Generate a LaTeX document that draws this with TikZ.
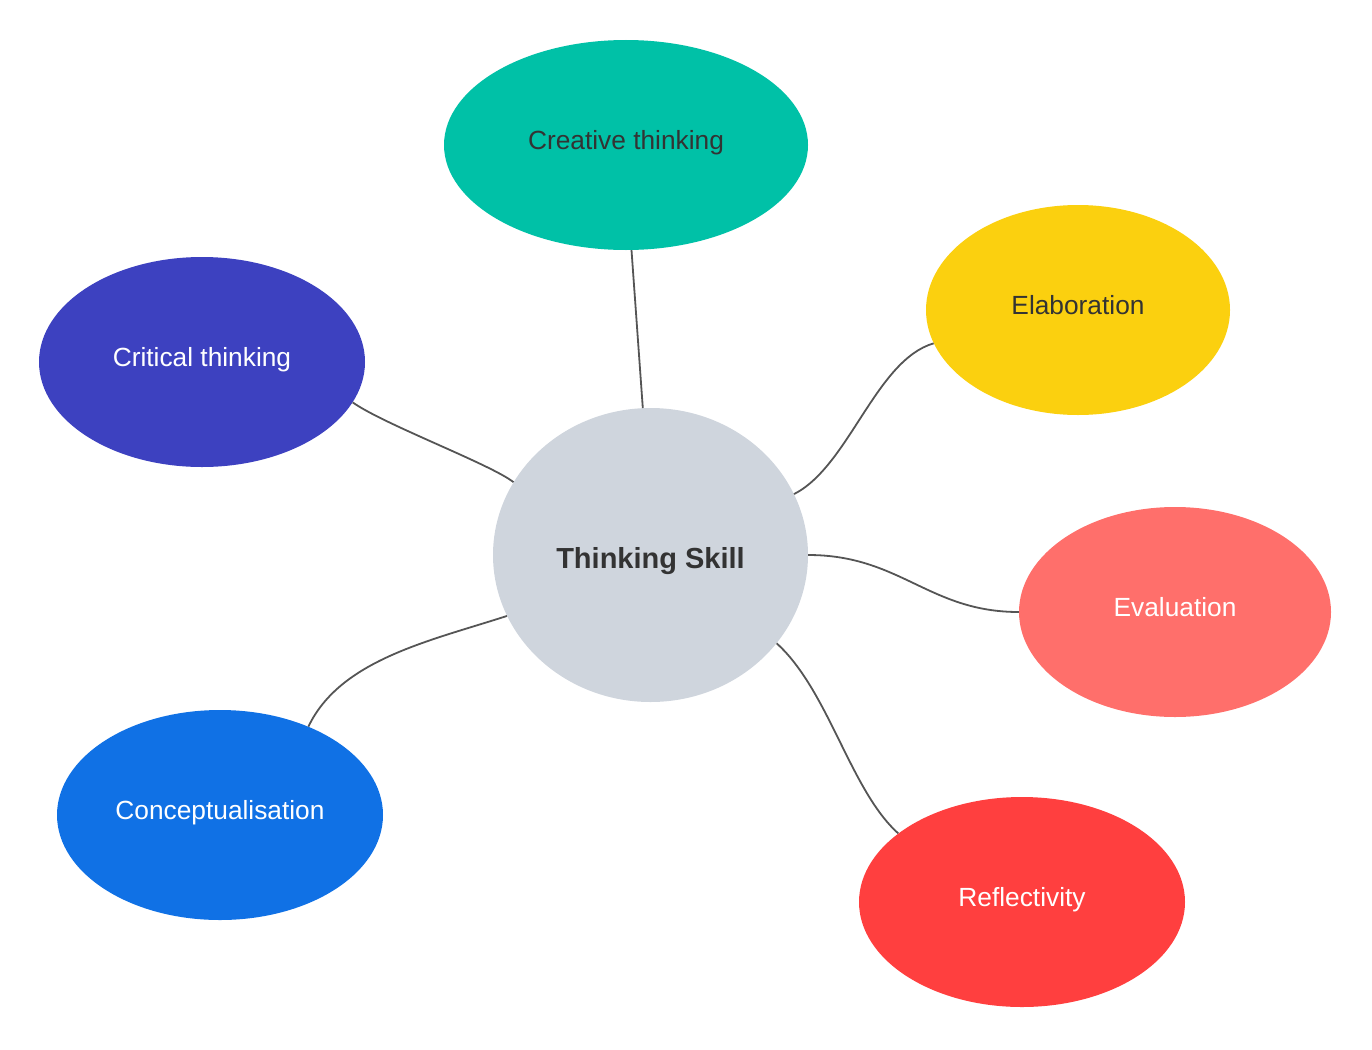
\documentclass[tikz,border=0pt]{standalone}
\usepackage{fontspec}
\setmainfont{Liberation Sans}
\usetikzlibrary{shapes.geometric}
\definecolor{cteal}{HTML}{00C1A7}
\definecolor{cyellow}{HTML}{FBD00F}
\definecolor{cindigo}{HTML}{3D41C0}
\definecolor{ccoral}{HTML}{FF6F6B}
\definecolor{cblue}{HTML}{1071E5}
\definecolor{cred}{HTML}{FF3F3F}
\definecolor{cgray}{HTML}{CFD5DD}
\definecolor{ctext}{HTML}{333333}
\definecolor{cline}{HTML}{555555}
\tikzset{
  bubble/.style={ellipse, inner sep=0pt, draw=none, font=\fontsize{26.3}{30}\selectfont,
    text height=14pt, text depth=6pt},
  darktext/.style={text=ctext},
  lighttext/.style={text=white},
  link/.style={draw=cline, line width=1.8pt}
}
\begin{document}
\begin{tikzpicture}[x=1pt,y=-1pt]
\useasboundingbox (0,0) rectangle (1372,1049);
\node[bubble, fill=cgray, minimum width=315pt, minimum height=294pt, text=ctext,
  font=\fontsize{29}{33}\selectfont\bfseries, text height=26pt, text depth=0pt] (ts) at (650.5,555) {Thinking Skill};
\node[bubble, fill=cteal, minimum width=364pt, minimum height=210pt, darktext] (ct) at (626,145) {Creative thinking};
\node[bubble, fill=cyellow, minimum width=304pt, minimum height=210pt, darktext] (el) at (1078,310) {Elaboration};
\node[bubble, fill=cindigo, minimum width=326pt, minimum height=210pt, lighttext] (cr) at (202,362) {Critical thinking};
\node[bubble, fill=ccoral, minimum width=312pt, minimum height=210pt, lighttext] (ev) at (1175,612) {Evaluation};
\node[bubble, fill=cblue, minimum width=326pt, minimum height=210pt, lighttext] (co) at (220,815) {Conceptualisation};
\node[bubble, fill=cred, minimum width=326pt, minimum height=210pt, lighttext] (re) at (1022,902) {Reflectivity};

\draw[link] (ct.273) -- (ts.93);
\draw[link] (cr.345) .. controls +(31,22) and +(-23,-18) .. (ts.152);
\draw[link] (ts.23) .. controls +(55,-28) and +(-58,17) .. (el.193);
\draw[link] (ts.0) .. controls +(92,0) and +(-90,0) .. (ev.180);
\draw[link] (ts.203) .. controls +(-77,25) and +(32,-67) .. (co.45);
\draw[link] (ts.325) .. controls +(52,47) and +(-48,-43) .. (re.151);
\end{tikzpicture}
\end{document}
